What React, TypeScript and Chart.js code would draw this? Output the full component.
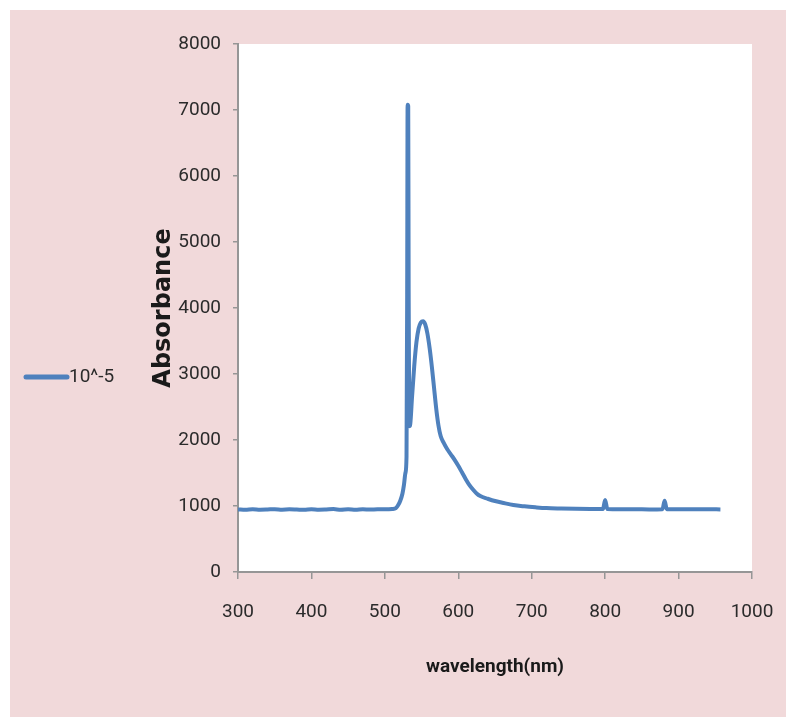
import React, { useEffect, useRef } from 'react';
import { Chart, registerables } from 'chart.js';

Chart.register(...registerables);

const seriesLabel = '10^-5';
const xAxisTitle = 'wavelength(nm)';
const yAxisTitle = 'Absorbance';

const wavelengths = [
  300, 310, 320, 330, 340, 350, 360, 370, 380, 390, 400, 410, 420, 430, 440, 450, 460, 470, 480, 490, 500, 510,
  515, 518, 521, 524, 526, 528, 529.5, 530.4, 531, 531.8, 532.4, 533.2, 534, 535, 537, 540, 543, 546, 549, 552,
  555, 558, 561, 564, 567, 570, 573, 576, 580, 585, 590, 595, 600, 605, 610, 615, 620, 625, 630, 640, 650, 660,
  675, 690, 705, 720, 740, 760, 780, 797, 800, 803, 820, 840, 860, 878, 881, 884, 900, 920, 940, 957,
];
const absorbance = [
  948, 943, 950, 944, 947, 952, 945, 949, 946, 942, 951, 945, 948, 953, 944, 949, 943, 950, 946, 951, 949, 955,
  968, 1010, 1080, 1190, 1320, 1500, 1750, 4200, 7080, 7060, 4300, 2280, 2210, 2290, 2650, 3120, 3480, 3690, 3780, 3800,
  3750, 3610, 3390, 3110, 2790, 2470, 2220, 2060, 1960, 1860, 1780, 1700, 1610, 1510, 1410, 1320, 1250, 1190, 1150, 1110, 1075, 1050,
  1015, 995, 980, 968, 962, 958, 955, 953, 1090, 953, 950, 952, 948, 951, 1080, 950, 952, 949, 951, 948,
];

const xMin = 300;
const xMax = 1000;
const xStep = 100;
const yMin = 0;
const yMax = 8000;
const yStep = 1000;

const lineColor = '#4F81BD';
const pink = '#F1D9DA';
const textColor = '#2b2b2b';
const axisColor = '#969696';
const tickFont = 'Roboto, "DejaVu Sans Condensed", sans-serif';

const plotBgPlugin = {
  id: 'plotBg',
  beforeDraw(chart: any) {
    const { ctx, chartArea } = chart;
    ctx.save();
    ctx.fillStyle = '#ffffff';
    ctx.fillRect(chartArea.left, chartArea.top, chartArea.right - chartArea.left, chartArea.bottom - chartArea.top);
    ctx.restore();
  },
};

const sideLegendPlugin = {
  id: 'sideLegend',
  afterDraw(chart: any) {
    const { ctx } = chart;
    const ds = chart.data.datasets[0];
    const y = 367;
    ctx.save();
    ctx.strokeStyle = ds.borderColor;
    ctx.lineWidth = 5;
    ctx.lineCap = 'round';
    ctx.beginPath();
    ctx.moveTo(16, y);
    ctx.lineTo(57, y);
    ctx.stroke();
    ctx.fillStyle = textColor;
    ctx.font = `19px ${tickFont}`;
    ctx.textBaseline = 'middle';
    ctx.textAlign = 'left';
    ctx.fillText(ds.label, 59, y);
    ctx.restore();
  },
};

export default function App() {
  const ref = useRef<HTMLCanvasElement | null>(null);

  useEffect(() => {
    if (!ref.current) return;
    const chart = new Chart(ref.current, {
      type: 'line',
      data: {
        datasets: [
          {
            label: seriesLabel,
            data: wavelengths.map((x, i) => ({ x, y: absorbance[i] })),
            borderColor: lineColor,
            backgroundColor: lineColor,
            borderWidth: 4,
            pointRadius: 0,
            cubicInterpolationMode: 'monotone',
            fill: false,
          },
        ],
      },
      options: {
        animation: false,
        responsive: false,
        maintainAspectRatio: false,
        layout: { padding: { left: 135, top: 34, right: 34, bottom: 0 } },
        plugins: {
          legend: { display: false },
          tooltip: { enabled: false },
        },
        scales: {
          x: {
            type: 'linear',
            min: xMin,
            max: xMax,
            afterFit(scale: any) {
              scale.height = 145;
              scale.paddingLeft = 0;
              scale.paddingRight = 0;
            },
            ticks: {
              stepSize: xStep,
              color: textColor,
              font: { family: tickFont, size: 19 },
              padding: 22,
              maxRotation: 0,
              callback: (v: any) => String(v),
            },
            grid: { drawOnChartArea: false, drawTicks: true, tickLength: 7, color: axisColor, lineWidth: 1.5 },
            border: { display: true, color: axisColor, width: 2 },
            title: {
              display: true,
              text: xAxisTitle,
              color: '#1a1a1a',
              font: { family: tickFont, size: 19, weight: 'bold' },
              padding: { top: 0, bottom: 38 },
            },
          },
          y: {
            type: 'linear',
            min: yMin,
            max: yMax,
            afterFit(scale: any) {
              scale.width = 93;
              scale.paddingTop = 0;
              scale.paddingBottom = 0;
            },
            ticks: {
              stepSize: yStep,
              color: textColor,
              font: { family: tickFont, size: 19 },
              padding: 12,
              callback: (v: any) => String(v),
            },
            grid: { drawOnChartArea: false, drawTicks: true, tickLength: 5, color: axisColor, lineWidth: 1.5 },
            border: { display: true, color: axisColor, width: 2 },
            title: {
              display: true,
              text: yAxisTitle,
              color: '#1a1a1a',
              font: { family: '"DejaVu Sans", sans-serif', size: 24, weight: 'bold' },
              padding: { top: 4, bottom: 0 },
            },
          },
        },
      },
      plugins: [plotBgPlugin, sideLegendPlugin],
    });
    return () => chart.destroy();
  }, []);

  return (
    <div
      style={{
        position: 'absolute',
        left: 10,
        top: 10,
        width: 776,
        height: 707,
        background: pink,
      }}
    >
      <canvas ref={ref} width={776} height={707} style={{ display: 'block' }} />
    </div>
  );
}
